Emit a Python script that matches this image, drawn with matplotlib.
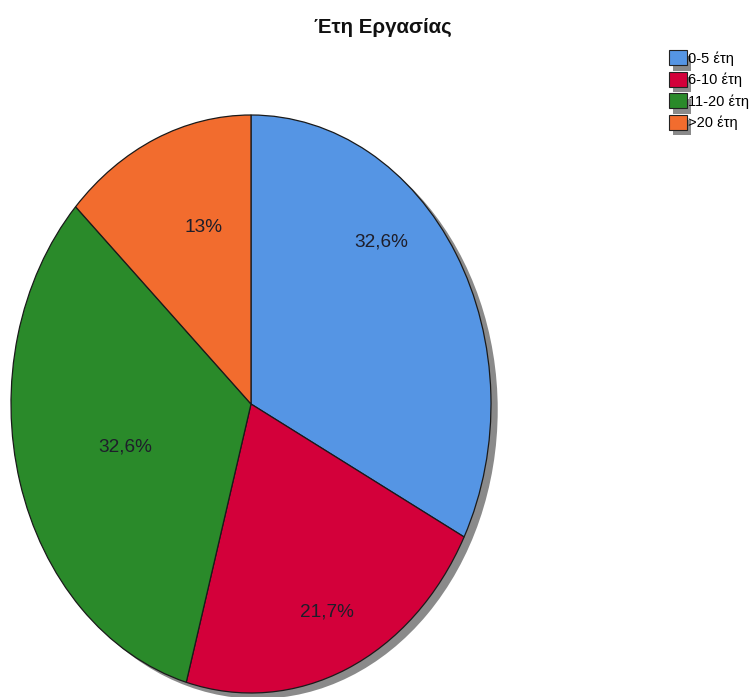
import matplotlib
matplotlib.use('Agg')
import matplotlib.pyplot as plt
import matplotlib.patches as mpatches
import matplotlib.patheffects as pe

plt.rcParams['font.family'] = ['Liberation Sans', 'DejaVu Sans']

# counts per category (n = 46)
categories = ['0-5 έτη', '6-10 έτη', '11-20 έτη', '>20 έτη']
counts = [15, 10, 15, 6]
colors = ['#5595E4', '#D3003A', '#2A8A2A', '#F26C2E']

# label spots inside the ellipse (data units, radius = 1)
label_pos = [(0.542, 0.56), (0.317, -0.72), (-0.525, -0.149), (-0.196, 0.609)]

W, H = 755, 697
fig = plt.figure(figsize=(W / 100, H / 100), dpi=100)
cx, cy, rx, ry = 251, 404, 240, 289
ax = fig.add_axes([(cx - rx) / W, 1 - (cy + ry) / H, 2 * rx / W, 2 * ry / H])

def pct_fmt(p):
    s = '%.1f' % p
    if s.endswith('.0'):
        s = s[:-2]
    return s.replace('.', ',') + '%'

wedges, texts, autotexts = ax.pie(counts, colors=colors, startangle=90, counterclock=False,
                                  autopct=pct_fmt, radius=1,
                                  wedgeprops=dict(edgecolor='#1a1a1a', linewidth=0.9),
                                  textprops=dict(fontsize=13.7, color='#1e1e2a'))
for t, (x, y) in zip(autotexts, label_pos):
    t.set_position((x, y))

# grey drop shadow behind the pie
shadow = mpatches.Ellipse((0.028, -0.02), 2, 2, facecolor='#8a8a8a', edgecolor='none',
                          zorder=0, clip_on=False)
ax.add_patch(shadow)
for w in wedges:
    w.set_zorder(1)
    w.set_clip_on(False)
for t in autotexts:
    t.set_zorder(3)

ax.set_aspect('auto')
ax.set_xlim(-1, 1)
ax.set_ylim(-1, 1)
ax.axis('off')

fig.text(383 / W, 1 - 33 / H, 'Έτη Εργασίας', ha='center', va='baseline',
         fontsize=14.8, fontweight='bold', color='#111111')

handles = [mpatches.Patch(facecolor=c, edgecolor='#222222', linewidth=0.8, label=l)
           for c, l in zip(colors, categories)]
leg = fig.legend(handles=handles, loc='upper left', bbox_to_anchor=(662 / W, 1 - 43 / H),
                 frameon=False, borderpad=0, handlelength=1.2, handleheight=1.2,
                 handletextpad=0.06, labelspacing=0.42, fontsize=10.5)
for h in leg.legend_handles:
    h.set_path_effects([pe.SimplePatchShadow(offset=(3, -4), shadow_rgbFace='#8a8a8a', alpha=1),
                        pe.Normal()])

fig.savefig('out.png', dpi=100)
